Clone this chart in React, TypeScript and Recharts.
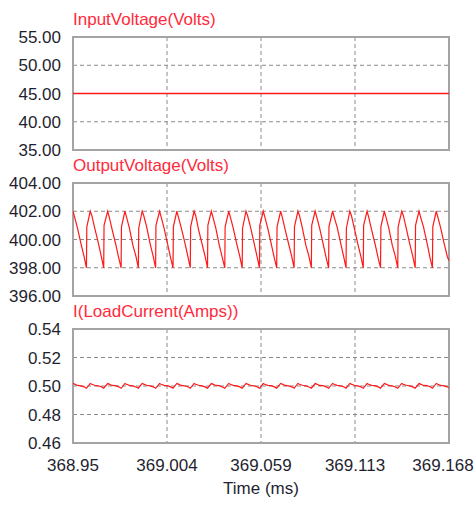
import React from "react";
import {
  LineChart,
  Line,
  XAxis,
  YAxis,
  CartesianGrid,
  ReferenceArea,
} from "recharts";

const T_MIN = 368.95;
const T_MAX = 369.168;

const xTicks = [368.95, 369.0045, 369.059, 369.1135, 369.168];
const xTickLabels = ["368.95", "369.004", "369.059", "369.113", "369.168"];

const inputTicks = [35, 40, 45, 50, 55];
const outputTicks = [396, 398, 400, 402, 404];
const currentTicks = [0.46, 0.48, 0.5, 0.52, 0.54];

// time (ms), volts
const inputVoltage: [number, number][] = [
  [368.95, 45],
  [369.168, 45],
];

// time (ms), volts
const outputVoltage: [number, number][] = [
  [368.95, 402.0], [368.9509, 401.6], [368.9526, 400.8], [368.9546, 399.7], [368.9564, 398.8], [368.9578, 398.0], [368.958, 400.9],
  [368.96, 402.0], [368.9609, 401.7], [368.9626, 400.8], [368.9646, 399.8], [368.9664, 398.8], [368.9678, 398.0], [368.968, 401.0],
  [368.9701, 402.0], [368.971, 401.6], [368.9727, 400.7], [368.9747, 399.7], [368.9765, 398.7], [368.9779, 398.0], [368.9781, 400.9],
  [368.9801, 402.0], [368.981, 401.6], [368.9827, 400.8], [368.9847, 399.6], [368.9865, 398.8], [368.9879, 398.0], [368.9881, 400.8],
  [368.9901, 402.0], [368.991, 401.7], [368.9927, 400.9], [368.9947, 399.7], [368.9965, 398.8], [368.9979, 398.0], [368.9981, 401.0],
  [369.0002, 402.0], [369.0011, 401.6], [369.0028, 400.8], [369.0048, 399.7], [369.0066, 398.7], [369.008, 398.0], [369.0082, 400.9],
  [369.0102, 402.0], [369.0111, 401.6], [369.0128, 400.8], [369.0148, 399.8], [369.0166, 398.8], [369.018, 398.0], [369.0182, 400.9],
  [369.0202, 402.0], [369.0211, 401.7], [369.0228, 400.7], [369.0248, 399.7], [369.0266, 398.8], [369.028, 398.0], [369.0282, 401.0],
  [369.0302, 402.0], [369.0311, 401.6], [369.0328, 400.8], [369.0348, 399.6], [369.0366, 398.7], [369.038, 398.0], [369.0382, 400.9],
  [369.0403, 402.0], [369.0412, 401.6], [369.0429, 400.8], [369.0449, 399.7], [369.0467, 398.8], [369.0481, 398.0], [369.0483, 400.8],
  [369.0503, 402.0], [369.0512, 401.7], [369.0529, 400.9], [369.0549, 399.8], [369.0567, 398.8], [369.0581, 398.0], [369.0583, 401.0],
  [369.0603, 402.0], [369.0612, 401.6], [369.0629, 400.8], [369.0649, 399.7], [369.0667, 398.7], [369.0681, 398.0], [369.0683, 400.9],
  [369.0704, 402.0], [369.0713, 401.6], [369.073, 400.7], [369.075, 399.7], [369.0768, 398.8], [369.0782, 398.0], [369.0784, 400.9],
  [369.0804, 402.0], [369.0813, 401.7], [369.083, 400.8], [369.085, 399.6], [369.0868, 398.8], [369.0882, 398.0], [369.0884, 401.0],
  [369.0904, 402.0], [369.0913, 401.6], [369.093, 400.8], [369.095, 399.7], [369.0968, 398.7], [369.0982, 398.0], [369.0984, 400.9],
  [369.1005, 402.0], [369.1014, 401.6], [369.1031, 400.9], [369.1051, 399.8], [369.1069, 398.8], [369.1083, 398.0], [369.1085, 400.8],
  [369.1105, 402.0], [369.1114, 401.7], [369.1131, 400.8], [369.1151, 399.7], [369.1169, 398.8], [369.1183, 398.0], [369.1185, 401.0],
  [369.1205, 402.0], [369.1214, 401.6], [369.1231, 400.7], [369.1251, 399.7], [369.1269, 398.7], [369.1283, 398.0], [369.1285, 400.9],
  [369.1305, 402.0], [369.1314, 401.6], [369.1331, 400.8], [369.1351, 399.6], [369.1369, 398.8], [369.1383, 398.0], [369.1385, 400.9],
  [369.1406, 402.0], [369.1415, 401.7], [369.1432, 400.8], [369.1452, 399.7], [369.147, 398.8], [369.1484, 398.0], [369.1486, 401.0],
  [369.1506, 402.0], [369.1515, 401.6], [369.1532, 400.9], [369.1552, 399.8], [369.157, 398.7], [369.1584, 398.0], [369.1586, 400.9],
  [369.1606, 402.0], [369.1615, 401.6], [369.1632, 400.8], [369.1652, 399.7], [369.167, 398.8], [369.168, 398.5],
];

// time (ms), amps
const loadCurrent: [number, number][] = [
  [368.95, 0.5019], [368.9509, 0.5013], [368.9526, 0.5004], [368.9546, 0.5001], [368.9564, 0.4994], [368.9578, 0.4984],
  [368.96, 0.5018], [368.9609, 0.5012], [368.9626, 0.5005], [368.9646, 0.5001], [368.9664, 0.4995], [368.9678, 0.4985],
  [368.9701, 0.5017], [368.971, 0.5013], [368.9727, 0.5004], [368.9747, 0.5002], [368.9765, 0.4994], [368.9779, 0.4984],
  [368.9801, 0.5018], [368.981, 0.5012], [368.9827, 0.5004], [368.9847, 0.5001], [368.9865, 0.4993], [368.9879, 0.4985],
  [368.9901, 0.5018], [368.991, 0.5013], [368.9927, 0.5005], [368.9947, 0.5001], [368.9965, 0.4994], [368.9979, 0.4984],
  [369.0002, 0.5017], [369.0011, 0.5012], [369.0028, 0.5004], [369.0048, 0.5002], [369.0066, 0.4994], [369.008, 0.4985],
  [369.0102, 0.5018], [369.0111, 0.5013], [369.0128, 0.5004], [369.0148, 0.5001], [369.0166, 0.4995], [369.018, 0.4984],
  [369.0202, 0.5018], [369.0211, 0.5012], [369.0228, 0.5005], [369.0248, 0.5001], [369.0266, 0.4994], [369.028, 0.4985],
  [369.0302, 0.5017], [369.0311, 0.5013], [369.0328, 0.5004], [369.0348, 0.5002], [369.0366, 0.4993], [369.038, 0.4984],
  [369.0403, 0.5018], [369.0412, 0.5012], [369.0429, 0.5004], [369.0449, 0.5001], [369.0467, 0.4994], [369.0481, 0.4985],
  [369.0503, 0.5018], [369.0512, 0.5013], [369.0529, 0.5005], [369.0549, 0.5001], [369.0567, 0.4995], [369.0581, 0.4984],
  [369.0603, 0.5017], [369.0612, 0.5012], [369.0629, 0.5004], [369.0649, 0.5002], [369.0667, 0.4994], [369.0681, 0.4985],
  [369.0704, 0.5018], [369.0713, 0.5013], [369.073, 0.5004], [369.075, 0.5001], [369.0768, 0.4994], [369.0782, 0.4984],
  [369.0804, 0.5018], [369.0813, 0.5012], [369.083, 0.5005], [369.085, 0.5001], [369.0868, 0.4993], [369.0882, 0.4985],
  [369.0904, 0.5017], [369.0913, 0.5013], [369.093, 0.5004], [369.095, 0.5002], [369.0968, 0.4994], [369.0982, 0.4984],
  [369.1005, 0.5018], [369.1014, 0.5012], [369.1031, 0.5004], [369.1051, 0.5001], [369.1069, 0.4995], [369.1083, 0.4985],
  [369.1105, 0.5018], [369.1114, 0.5013], [369.1131, 0.5005], [369.1151, 0.5001], [369.1169, 0.4994], [369.1183, 0.4984],
  [369.1205, 0.5017], [369.1214, 0.5012], [369.1231, 0.5004], [369.1251, 0.5002], [369.1269, 0.4994], [369.1283, 0.4985],
  [369.1305, 0.5018], [369.1314, 0.5013], [369.1331, 0.5004], [369.1351, 0.5001], [369.1369, 0.4993], [369.1383, 0.4984],
  [369.1406, 0.5018], [369.1415, 0.5012], [369.1432, 0.5005], [369.1452, 0.5001], [369.147, 0.4994], [369.1484, 0.4985],
  [369.1506, 0.5017], [369.1515, 0.5013], [369.1532, 0.5004], [369.1552, 0.5002], [369.157, 0.4995], [369.1584, 0.4984],
  [369.1606, 0.5018], [369.1615, 0.5012], [369.1632, 0.5004], [369.1652, 0.5001], [369.167, 0.4994], [369.168, 0.4987],
];

const WIDTH = 476;
const RED = "#ff1a1a";
const TITLE_RED = "#ff2a3c";
const TEXT = "#1f1f30";
const FONT = "Arial, 'Liberation Sans', sans-serif";

const toRows = (pts: [number, number][]) => pts.map(([t, v]) => ({ t, v }));

function TimeTick(props: any) {
  const { x, y, payload, index } = props;
  const last = index === xTicks.length - 1;
  return (
    <text
      x={last ? x - 6 : x}
      y={y}
      dy="0.71em"
      textAnchor="middle"
      fontSize={17}
      fill={TEXT}
    >
      {xTickLabels[index] ?? payload.value}
    </text>
  );
}

type PanelProps = {
  title: string;
  points: [number, number][];
  yTicks: number[];
  decimals: number;
  top: number;
  height: number;
  bottom: number;
  strokeWidth: number;
  showTime?: boolean;
};

function Panel({
  title,
  points,
  yTicks,
  decimals,
  top,
  height,
  bottom,
  strokeWidth,
  showTime,
}: PanelProps) {
  const yMin = yTicks[0];
  const yMax = yTicks[yTicks.length - 1];
  return (
    <div style={{ position: "absolute", left: 0, top }}>
      <LineChart
        width={WIDTH}
        height={height}
        data={toRows(points)}
        margin={{ top: 37, right: 27, bottom, left: 0 }}
      >
        <CartesianGrid stroke="#8a8a8a" strokeDasharray="4 3" />
        <XAxis
          type="number"
          dataKey="t"
          domain={[T_MIN, T_MAX]}
          ticks={xTicks}
          interval={0}
          allowDataOverflow
          hide={!showTime}
          axisLine={false}
          tickLine={false}
          tickSize={6}
          tickMargin={10}
          height={40}
          tick={<TimeTick />}
        />
        <YAxis
          type="number"
          domain={[yMin, yMax]}
          ticks={yTicks}
          interval={0}
          allowDataOverflow
          width={73}
          axisLine={false}
          tickLine={false}
          tickSize={6}
          tickMargin={6}
          tickFormatter={(v: number) => v.toFixed(decimals)}
          tick={{ fontSize: 17, fill: TEXT }}
        />
        <ReferenceArea
          x1={T_MIN}
          x2={T_MAX}
          y1={yMin}
          y2={yMax}
          fill="none"
          stroke="#a4a4a4"
          strokeWidth={2}
        />
        <Line
          type="linear"
          dataKey="v"
          stroke={RED}
          strokeWidth={strokeWidth}
          dot={false}
          activeDot={false}
          isAnimationActive={false}
        />
        <text x={73} y={25} fontSize={17} fill={TITLE_RED}>
          {title}
        </text>
        {showTime && (
          <text x={261} y={202} fontSize={17} fill={TEXT} textAnchor="middle">
            Time (ms)
          </text>
        )}
      </LineChart>
    </div>
  );
}

export default function App() {
  return (
    <div
      style={{
        position: "absolute",
        left: 0,
        top: 0,
        width: WIDTH,
        height: 505,
        background: "#fff",
        fontFamily: FONT,
      }}
    >
      <Panel
        title="InputVoltage(Volts)"
        points={inputVoltage}
        yTicks={inputTicks}
        decimals={2}
        top={0}
        height={160}
        bottom={10}
        strokeWidth={1.6}
      />
      <Panel
        title="OutputVoltage(Volts)"
        points={outputVoltage}
        yTicks={outputTicks}
        decimals={2}
        top={146}
        height={160}
        bottom={10}
        strokeWidth={1.2}
      />
      <Panel
        title="I(LoadCurrent(Amps))"
        points={loadCurrent}
        yTicks={currentTicks}
        decimals={2}
        top={292}
        height={213}
        bottom={22}
        strokeWidth={1.2}
        showTime
      />
    </div>
  );
}
